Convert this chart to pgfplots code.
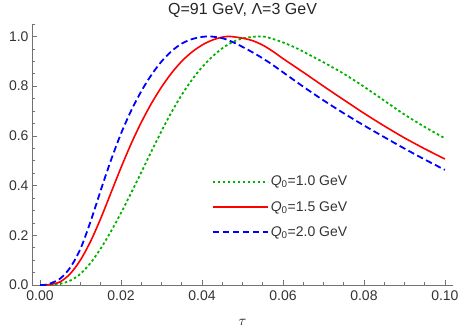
\documentclass[border=0pt]{standalone}
\usepackage{pgfplots}
\pgfplotsset{compat=1.18}
\usepackage{fontspec}
\setmainfont{Liberation Sans}
\definecolor{mgreen}{rgb}{0,0.7,0}
\definecolor{axgray}{gray}{0.45}
\definecolor{lblgray}{gray}{0.2}
\pgfplotstableread{
t v
0.000 0
0.001 0
0.0025 0.006
0.005 0.026
0.0075 0.071
0.010 0.146
0.0125 0.256
0.015 0.381
0.0175 0.501
0.020 0.609
0.0225 0.701
0.025 0.779
0.0275 0.845
0.030 0.899
0.0325 0.941
0.035 0.971
0.0375 0.989
0.040 0.998
0.042 1.000
0.045 0.993
0.0475 0.978
0.050 0.958
0.0525 0.936
0.055 0.912
0.0575 0.885
0.060 0.856
0.065 0.798
0.070 0.743
0.075 0.691
0.080 0.642
0.085 0.595
0.090 0.549
0.095 0.505
0.100 0.463
}\blue
\pgfplotstableread{
t v
0.000 0
0.001 0
0.0025 0.002
0.005 0.013
0.0075 0.046
0.010 0.101
0.0125 0.176
0.015 0.268
0.0175 0.370
0.020 0.472
0.0225 0.568
0.025 0.654
0.0275 0.730
0.030 0.796
0.0325 0.853
0.035 0.900
0.0375 0.937
0.040 0.965
0.0425 0.985
0.045 0.997
0.0465 1.000
0.048 0.998
0.050 0.993
0.0525 0.983
0.055 0.965
0.0575 0.940
0.060 0.911
0.065 0.856
0.070 0.800
0.075 0.745
0.080 0.691
0.085 0.640
0.090 0.592
0.095 0.548
0.100 0.507
}\red
\pgfplotstableread{
t v
0.000 0
0.0025 0
0.005 0.005
0.0075 0.018
0.010 0.045
0.0125 0.089
0.015 0.147
0.0175 0.215
0.020 0.290
0.0225 0.370
0.025 0.453
0.0275 0.537
0.030 0.619
0.0325 0.696
0.035 0.765
0.0375 0.825
0.040 0.876
0.0425 0.918
0.045 0.952
0.0475 0.977
0.050 0.992
0.0525 0.998
0.054 1.000
0.0555 0.999
0.0575 0.990
0.060 0.976
0.0625 0.959
0.065 0.939
0.070 0.896
0.075 0.850
0.080 0.798
0.085 0.742
0.090 0.686
0.095 0.636
0.100 0.590
}\green
\begin{document}
\begin{tikzpicture}
\useasboundingbox (-32pt,-46pt) rectangle (430pt,285pt);
\begin{axis}[
  at={(0,0)}, anchor=south west,
  scale only axis, width=421pt, height=261pt,
  xmin=-0.00198, xmax=0.102, ymin=0, ymax=1.05,
  axis lines=left,
  axis line style={-, draw=axgray, line width=0.8pt},
  every tick/.style={draw=axgray, line width=0.6pt},
  major tick length=5pt, minor tick length=3pt,
  tick align=inside,
  xtick={0,0.02,0.04,0.06,0.08,0.1},
  xticklabels={0.00,0.02,0.04,0.06,0.08,0.10},
  minor xtick={0.005,0.01,0.015,0.025,0.03,0.035,0.045,0.05,0.055,0.065,0.07,0.075,0.085,0.09,0.095},
  ytick={0,0.2,0.4,0.6,0.8,1.0},
  yticklabels={0.0,0.2,0.4,0.6,0.8,1.0},
  minor ytick={0.05,0.1,0.15,0.25,0.3,0.35,0.45,0.5,0.55,0.65,0.7,0.75,0.85,0.9,0.95,1.05},
  tick label style={font=\fontsize{14}{14}\selectfont, text=lblgray},
  xticklabel style={yshift=-2pt},
  title={Q=91 GeV, Λ=3 GeV},
  title style={font=\fontsize{16}{16}\selectfont, text=black!85, anchor=base, at={(0.5,1)}, yshift=3pt},
  xlabel={$\tau$},
  xlabel style={font=\fontsize{14}{14}\selectfont, anchor=base, at={(0.5,0)}, yshift=-40pt},
  legend cell align=left,
  legend style={draw=none, fill=none, at={(0.42,0.299)}, anchor=west,
    font=\fontsize{14}{14}\selectfont, text=black!80, row sep=10pt},
  legend image code/.code={\draw[#1] (0pt,0pt) -- (47pt,0pt); \path (0pt,0pt) -- (55pt,0pt);},
  clip=false,
]
\addplot[mgreen, line width=1.8pt, dash pattern=on 2.5pt off 2.5pt, smooth] table[x=t,y=v] {\green};
\addlegendentry{\textit{Q}\textsubscript{0}=1.0 GeV}
\addplot[red, line width=1.6pt, smooth] table[x=t,y=v] {\red};
\addlegendentry{\textit{Q}\textsubscript{0}=1.5 GeV}
\addplot[blue, line width=1.8pt, dash pattern=on 6.5pt off 3.5pt, smooth] table[x=t,y=v] {\blue};
\addlegendentry{\textit{Q}\textsubscript{0}=2.0 GeV}
\end{axis}
\end{tikzpicture}
\end{document}
